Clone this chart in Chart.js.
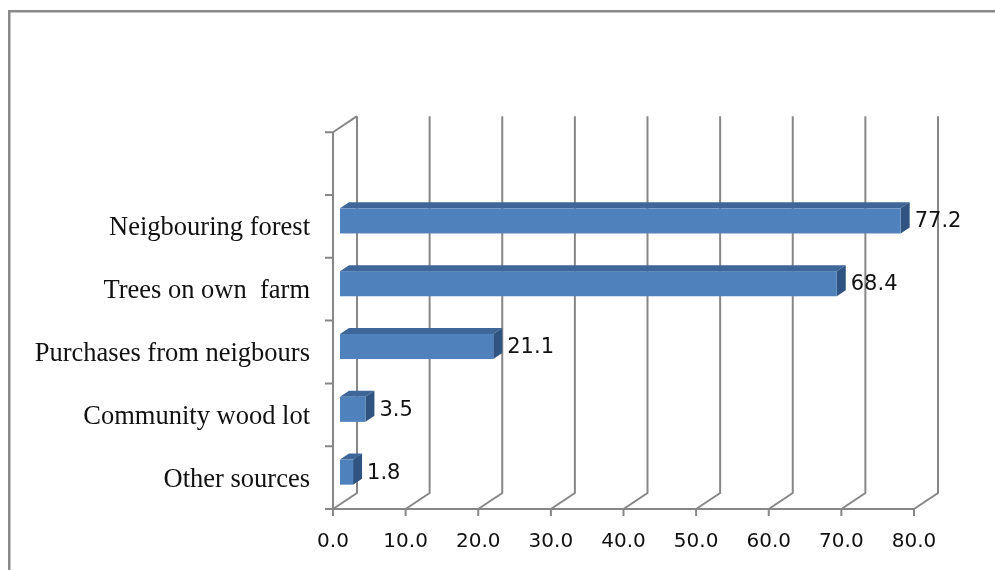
<!DOCTYPE html>
<html>
<head>
<meta charset="utf-8">
<script src="https://cdn.jsdelivr.net/npm/chart.js@4/dist/chart.umd.min.js"></script>
<style>
  html, body { margin: 0; padding: 0; background: #fff; overflow: hidden; }
  canvas { display: block; }
</style>
</head>
<body>
<canvas id="c" width="995" height="570"></canvas>
<script>
// Sources of fuelwood (% of households)
const categories = ['Neigbouring forest', 'Trees on own  farm', 'Purchases from neigbours', 'Community wood lot', 'Other sources'];
const shares = [77.2, 68.4, 21.1, 3.5, 1.8];
const axisMin = 0;
const axisMax = 80;
const axisStep = 10;

// 3-D look: back wall offset, bar front face offset and bar depth
const WALL = { dx: 24, dy: -16 };
const FACE = { dx: 7, dy: -5.5 };
const DEPTH = { dx: 9, dy: -6 };
const GRID = '#878787';

const box3d = {
  id: 'box3d',
  beforeDatasetsDraw(chart) {
    const { ctx, scales: { x, y }, chartArea } = chart;
    const slot = y.getPixelForValue(1) - y.getPixelForValue(0);
    const floor = chartArea.bottom;
    const top = chartArea.top - slot;          // one empty slot above the first category
    const x0 = x.getPixelForValue(axisMin);
    const xs = x.ticks.map(t => x.getPixelForValue(t.value));

    ctx.save();
    // outer frame
    ctx.strokeStyle = '#8a8a8a';
    ctx.lineWidth = 2.5;
    ctx.strokeRect(9.25, 11.25, chart.width + 20, chart.height + 20);

    ctx.strokeStyle = GRID;
    ctx.lineWidth = 2;
    ctx.beginPath();
    // back-wall gridlines folding down onto the floor
    xs.forEach(px => {
      ctx.moveTo(px + WALL.dx, top + WALL.dy);
      ctx.lineTo(px + WALL.dx, floor + WALL.dy);
      ctx.lineTo(px, floor);
    });
    // left side wall
    ctx.moveTo(x0, floor);
    ctx.lineTo(x0, top);
    ctx.lineTo(x0 + WALL.dx, top + WALL.dy);
    // front floor edge
    ctx.moveTo(x0 - 8, floor);
    ctx.lineTo(xs[xs.length - 1], floor);
    // value tick marks
    xs.forEach(px => { ctx.moveTo(px, floor); ctx.lineTo(px, floor + 7); });
    // category tick marks
    for (let j = -1; j <= categories.length; j++) {
      const py = chartArea.top + j * slot;
      ctx.moveTo(x0 - 8, py);
      ctx.lineTo(x0, py);
    }
    ctx.stroke();
    ctx.restore();
  },
  afterDatasetsDraw(chart) {
    const { ctx } = chart;
    const meta = chart.getDatasetMeta(0);
    ctx.save();
    meta.data.forEach((bar, i) => {
      const { x: xe, y: yc, base, height } = bar.getProps(['x', 'y', 'base', 'height'], true);
      const l = base + FACE.dx, r = xe + FACE.dx;
      const t = yc - height / 2 + FACE.dy, b = t + height;
      // top face
      ctx.fillStyle = '#3e6698';
      ctx.beginPath();
      ctx.moveTo(l, t);
      ctx.lineTo(l + DEPTH.dx, t + DEPTH.dy);
      ctx.lineTo(r + DEPTH.dx, t + DEPTH.dy);
      ctx.lineTo(r, t);
      ctx.closePath();
      ctx.fill();
      // end face
      ctx.fillStyle = '#2f5482';
      ctx.beginPath();
      ctx.moveTo(r, t);
      ctx.lineTo(r + DEPTH.dx, t + DEPTH.dy);
      ctx.lineTo(r + DEPTH.dx, b + DEPTH.dy);
      ctx.lineTo(r, b);
      ctx.closePath();
      ctx.fill();
      // front face
      ctx.fillStyle = '#4f81bd';
      ctx.fillRect(l, t, r - l, height);
      // value label
      ctx.fillStyle = '#111';
      ctx.font = '21px "DejaVu Sans"';
      ctx.textAlign = 'left';
      ctx.textBaseline = 'middle';
      ctx.fillText(shares[i].toFixed(1), r + DEPTH.dx + 5, (t + b) / 2 + 1);
    });
    ctx.restore();
  }
};

new Chart(document.getElementById('c'), {
  type: 'bar',
  data: {
    labels: categories,
    datasets: [{
      data: shares,
      backgroundColor: 'rgba(0,0,0,0)',
      borderWidth: 0,
      barPercentage: 0.4,
      categoryPercentage: 1.0
    }]
  },
  options: {
    indexAxis: 'y',
    responsive: false,
    animation: false,
    devicePixelRatio: 1,
    layout: { padding: { top: 195, right: 81, bottom: 0, left: 0 } },
    plugins: { legend: { display: false }, tooltip: { enabled: false } },
    scales: {
      x: {
        min: axisMin,
        max: axisMax,
        grid: { display: false },
        border: { display: false },
        ticks: {
          stepSize: axisStep,
          padding: 13,
          color: '#111',
          font: { family: 'DejaVu Sans', size: 20 },
          maxRotation: 0,
          callback: v => Number(v).toFixed(1)
        },
        afterFit: s => { s.height = 61; }
      },
      y: {
        grid: { display: false },
        border: { display: false },
        ticks: {
          padding: 15,
          labelOffset: 2,
          color: '#111',
          font: { family: 'Liberation Serif', size: 26.5 }
        },
        afterFit: s => { s.width = 333; }
      }
    }
  },
  plugins: [box3d]
});
</script>
</body>
</html>
